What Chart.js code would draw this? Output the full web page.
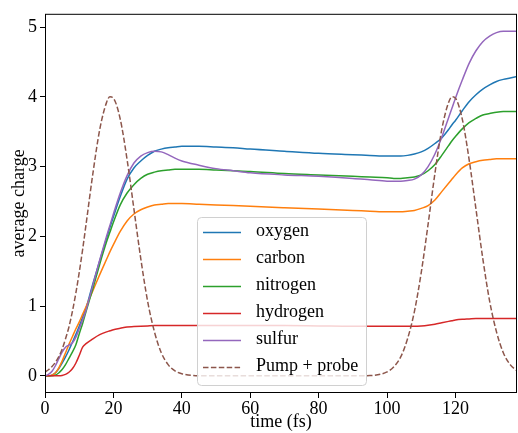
<!DOCTYPE html>
<html>
<head>
<meta charset="utf-8">
<script src="https://cdn.jsdelivr.net/npm/chart.js@4.4.0/dist/chart.umd.min.js"></script>
<style>
  html, body { margin: 0; padding: 0; background: #fff; }
  #wrap { width: 518px; height: 433px; position: relative; }
</style>
</head>
<body>
<div id="wrap"><canvas id="chargeChart"></canvas></div>
<script>
// time samples (fs), shared by every series
const times = [0,1,2,3,4,5,6,7,8,9,10,11,12,14,16,18,19,20,22,24,26,28,30,32,34,36,38,40,
  45,50,55,60,70,80,90,95,100,102,104,106,108,110,112,114,116,118,119,120,122,124,126,128,130,132,134,136,138];

const oxygen = [0,0,0.01,0.04,0.1,0.18,0.27,0.37,0.48,0.59,0.71,0.84,0.97,1.32,1.65,1.97,2.13,
  2.28,2.57,2.82,2.98,3.08,3.16,3.22,3.25,3.27,3.28,3.29,3.29,3.28,3.27,3.25,3.22,3.19,3.17,3.16,
  3.15,3.15,3.15,3.16,3.18,3.21,3.26,3.33,3.41,3.53,3.60,3.66,3.80,3.93,4.03,4.11,4.17,4.22,4.25,4.27,4.29];

const carbon = [0,0,0.01,0.04,0.11,0.21,0.33,0.45,0.56,0.67,0.77,0.88,0.99,1.22,1.45,1.67,1.78,
  1.88,2.07,2.22,2.32,2.38,2.42,2.45,2.46,2.47,2.47,2.47,2.46,2.45,2.44,2.43,2.41,2.39,2.37,2.36,
  2.35,2.35,2.35,2.36,2.37,2.40,2.44,2.52,2.64,2.76,2.82,2.88,2.98,3.04,3.07,3.09,3.10,3.11,3.11,3.11,3.11];

const nitrogen = [0,0,0,0.01,0.04,0.09,0.16,0.25,0.34,0.44,0.6,0.75,0.92,1.25,1.6,1.92,2.06,
  2.2,2.45,2.62,2.74,2.83,2.89,2.92,2.94,2.95,2.96,2.96,2.96,2.95,2.94,2.93,2.90,2.88,2.86,2.85,
  2.84,2.83,2.83,2.84,2.85,2.88,2.94,3.03,3.16,3.30,3.37,3.43,3.54,3.63,3.69,3.74,3.76,3.78,3.79,3.79,3.79];

const hydrogen = [0,0,0,0,0,0.005,0.02,0.05,0.10,0.18,0.29,0.41,0.46,0.53,0.59,0.63,0.645,
  0.66,0.68,0.70,0.705,0.71,0.715,0.72,0.72,0.72,0.72,0.72,0.72,0.72,0.72,0.72,0.72,0.715,0.71,0.71,
  0.71,0.71,0.71,0.71,0.71,0.715,0.725,0.74,0.76,0.78,0.79,0.80,0.81,0.815,0.82,0.82,0.82,0.82,0.82,0.82,0.82];

const sulfur = [0,0.02,0.06,0.14,0.24,0.34,0.41,0.44,0.47,0.55,0.67,0.80,0.94,1.30,1.66,2.0,2.16,
  2.32,2.62,2.87,3.05,3.15,3.20,3.22,3.21,3.17,3.12,3.08,3.02,2.97,2.94,2.91,2.88,2.86,2.83,2.81,
  2.79,2.79,2.79,2.80,2.82,2.88,3.0,3.18,3.42,3.70,3.84,3.98,4.24,4.48,4.66,4.79,4.87,4.92,4.94,4.94,4.94];

const pumpProbe = [0.055,0.086,0.13,0.19,0.27,0.38,0.53,0.70,0.92,1.18,1.48,1.81,2.17,2.90,3.53,3.92,4.0,
  3.98,3.68,3.10,2.39,1.68,1.07,0.63,0.33,0.16,0.07,0.03,0,0,0,0,0,0,0,0.003,
  0.055,0.13,0.27,0.53,0.92,1.48,2.17,2.90,3.53,3.92,4.0,3.98,3.68,3.10,2.39,1.68,1.07,0.63,0.33,0.16,0.07];

const seriesNames = ['oxygen', 'carbon', 'nitrogen', 'hydrogen', 'sulfur', 'Pump + probe'];
const seriesValues = [oxygen, carbon, nitrogen, hydrogen, sulfur, pumpProbe];
const seriesColors = ['#1f77b4', '#ff7f0e', '#2ca02c', '#d62728', '#9467bd', '#8c564b'];

const xTicks = [0, 20, 40, 60, 80, 100, 120];
const yTicks = [0, 1, 2, 3, 4, 5];

const FONT = '"Liberation Serif", "Times New Roman", serif';

const datasets = seriesValues.map((vals, i) => ({
  label: seriesNames[i],
  data: times.map((t, k) => ({ x: t, y: vals[k] })),
  borderColor: seriesColors[i],
  borderWidth: 1.5,
  borderDash: i === 5 ? [5.5, 2.4] : [],
  pointRadius: 0,
  fill: false,
  cubicInterpolationMode: 'monotone',
  order: 5 - i
}));

// matplotlib-ish frame and legend box drawn over the lines
const frameLegend = {
  id: 'frameLegend',
  afterDatasetsDraw(chart) {
    const ctx = chart.ctx;
    const a = chart.chartArea;
    ctx.save();
    ctx.setLineDash([]);
    ctx.strokeStyle = '#000';
    ctx.lineWidth = 1;
    ctx.strokeRect(a.left + 0.5, a.top + 0.5, a.right - a.left - 1, a.bottom - a.top - 1);

    // legend
    const bx = 197, by = 217, bw = 169, bh = 168, r = 4;
    ctx.beginPath();
    ctx.roundRect(bx + 0.5, by + 0.5, bw, bh, r);
    ctx.fillStyle = 'rgba(255,255,255,0.8)';
    ctx.fill();
    ctx.strokeStyle = '#d0d0d0';
    ctx.stroke();

    chart.data.datasets.forEach((ds, i) => {
      const yy = 232.5 + i * 27;
      ctx.beginPath();
      ctx.setLineDash(ds.borderDash);
      ctx.strokeStyle = ds.borderColor;
      ctx.lineWidth = ds.borderWidth;
      ctx.moveTo(203, yy);
      ctx.lineTo(241, yy);
      ctx.stroke();
      ctx.setLineDash([]);
      ctx.fillStyle = '#000';
      ctx.font = '18px ' + FONT;
      ctx.textBaseline = 'middle';
      ctx.textAlign = 'left';
      ctx.fillText(ds.label, 256, yy - 1);
    });
    ctx.restore();
  }
};

new Chart(document.getElementById('chargeChart'), {
  type: 'line',
  data: { datasets: datasets },
  options: {
    responsive: true,
    maintainAspectRatio: false,
    animation: false,
    layout: { padding: { top: 3, right: 1, left: 0, bottom: 0 } },
    plugins: { legend: { display: false }, tooltip: { enabled: false } },
    scales: {
      x: {
        type: 'linear',
        min: 0,
        max: 138,
        afterBuildTicks: (scale) => { scale.ticks = xTicks.map(v => ({ value: v })); },
        afterFit: (scale) => { scale.height = 40; },
        grid: { display: true, drawOnChartArea: false, drawTicks: true, tickLength: 5, color: '#000' },
        border: { display: false },
        ticks: { color: '#000', font: { family: FONT, size: 18 }, padding: 0, maxRotation: 0 },
        title: { display: true, text: 'time (fs)', color: '#000', font: { family: FONT, size: 18 }, padding: { top: 0, bottom: 0 } }
      },
      y: {
        type: 'linear',
        min: -0.247,
        max: 5.19,
        afterBuildTicks: (scale) => { scale.ticks = yTicks.map(v => ({ value: v })); },
        afterFit: (scale) => { scale.width = 45; },
        grid: { display: true, drawOnChartArea: false, drawTicks: true, tickLength: 5, color: '#000' },
        border: { display: false },
        ticks: { color: '#000', font: { family: FONT, size: 18 }, padding: 3 },
        title: { display: true, text: 'average charge', color: '#000', font: { family: FONT, size: 18 }, padding: { top: 8, bottom: 0 } }
      }
    }
  },
  plugins: [frameLegend]
});
</script>
</body>
</html>
